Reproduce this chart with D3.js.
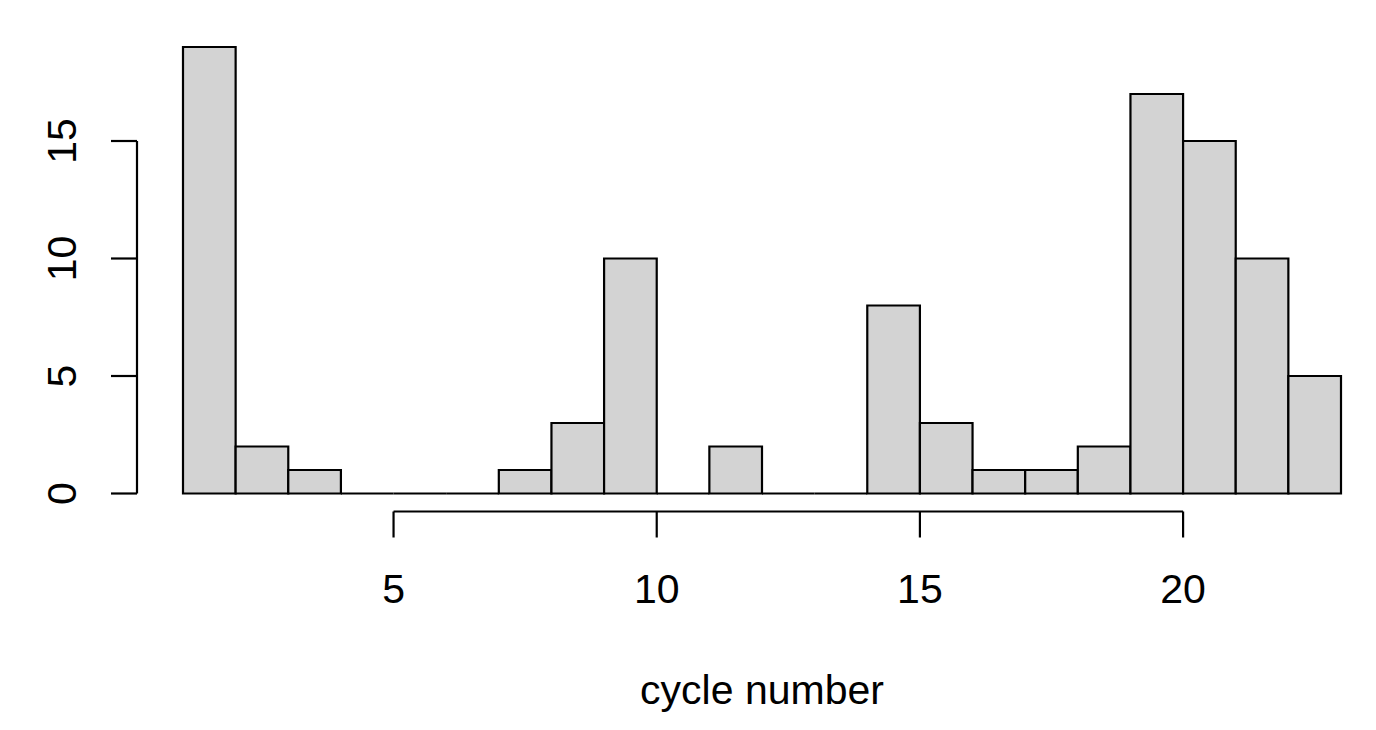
<!DOCTYPE html>
<html>
<head>
<meta charset="utf-8">
<script src="https://cdn.jsdelivr.net/npm/d3@7"></script>
<style>
  html, body { margin: 0; padding: 0; background: #ffffff; }
  svg { display: block; }
  text { font-family: "Liberation Sans", Arial, Helvetica, sans-serif; fill: #000; }
</style>
</head>
<body>
<svg id="chart" width="1376" height="730"></svg>
<script>
// Histogram bins (cycle number), width 1
const binStarts = [1,2,3,4,5,6,7,8,9,10,11,12,13,14,15,16,17,18,19,20,21,22];
const counts    = [19,2,1,0,0,0,1,3,10,0,2,0,0,8,3,1,1,2,17,15,10,5];
const xTicks = [5, 10, 15, 20];
const yTicks = [0, 5, 10, 15];
const xLabel = "cycle number";

const svg = d3.select("#chart");
const x = d3.scaleLinear().domain([1, 23]).range([183, 1341]);
const y = d3.scaleLinear().domain([0, 15]).range([493.5, 141]);
const FS = 41;

// bars (drawn as closed paths so empty bins show as a line at 0)
svg.append("g").selectAll("path")
  .data(binStarts.map((s, i) => ({s, c: counts[i]})))
  .join("path")
  .attr("d", d => {
    const x0 = x(d.s), x1 = x(d.s + 1), y0 = y(0), y1 = y(d.c);
    return `M${x0},${y0}V${y1}H${x1}V${y0}Z`;
  })
  .attr("fill", "#d3d3d3")
  .attr("stroke", "#000")
  .attr("stroke-width", 2.2)
  .attr("stroke-linejoin", "miter");

// y axis
const yAxisX = 137;
const gy = svg.append("g");
gy.append("line").attr("x1", yAxisX).attr("x2", yAxisX)
  .attr("y1", y(0)).attr("y2", y(15)).attr("stroke", "#000").attr("stroke-width", 2.2);
gy.selectAll("line.t").data(yTicks).join("line").attr("class", "t")
  .attr("x1", yAxisX - 26).attr("x2", yAxisX)
  .attr("y1", d => y(d)).attr("y2", d => y(d))
  .attr("stroke", "#000").attr("stroke-width", 2.2);
gy.selectAll("text").data(yTicks).join("text")
  .attr("transform", d => `translate(76,${y(d)}) rotate(-90)`)
  .attr("text-anchor", "middle")
  .attr("font-size", FS)
  .text(d => d);

// x axis
const xAxisY = 511.5;
const gx = svg.append("g");
gx.append("line").attr("x1", x(5)).attr("x2", x(20))
  .attr("y1", xAxisY).attr("y2", xAxisY).attr("stroke", "#000").attr("stroke-width", 2.2);
gx.selectAll("line.t").data(xTicks).join("line").attr("class", "t")
  .attr("x1", d => x(d)).attr("x2", d => x(d))
  .attr("y1", xAxisY).attr("y2", xAxisY + 26)
  .attr("stroke", "#000").attr("stroke-width", 2.2);
gx.selectAll("text").data(xTicks).join("text")
  .attr("x", d => x(d)).attr("y", 603)
  .attr("text-anchor", "middle")
  .attr("font-size", FS)
  .text(d => d);

svg.append("text")
  .attr("x", (x(1) + x(23)) / 2).attr("y", 704)
  .attr("text-anchor", "middle")
  .attr("font-size", FS)
  .text(xLabel);
</script>
</body>
</html>
